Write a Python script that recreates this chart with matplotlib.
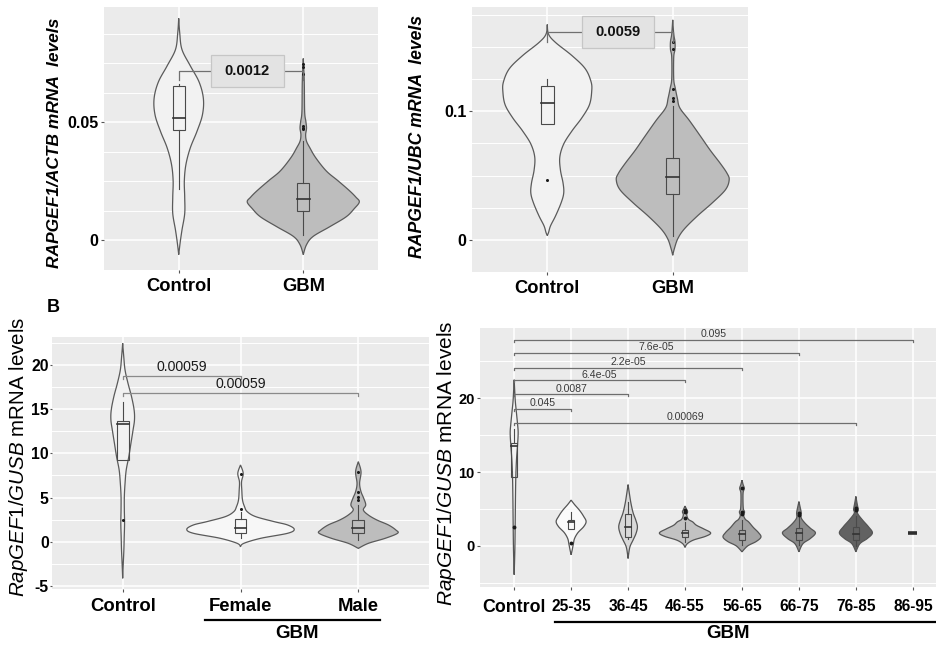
import numpy as np
import matplotlib
matplotlib.use("Agg")
import matplotlib.pyplot as plt
from matplotlib.patches import Rectangle
from matplotlib.lines import Line2D

plt.rcParams['font.family'] = ['Liberation Sans', 'DejaVu Sans']
plt.rcParams['mathtext.fontset'] = 'custom'
plt.rcParams['mathtext.rm'] = 'Liberation Sans'
plt.rcParams['mathtext.it'] = 'Liberation Sans:italic'
plt.rcParams['mathtext.bf'] = 'Liberation Sans:bold'

# ---------------- data: panel A1 (RAPGEF1/ACTB) ----------------
a1_cats = ["Control", "GBM"]
a1_ctrl_y = [0.094, 0.0878, 0.0808, 0.0739, 0.0670, 0.060, 0.0531, 0.0461, 0.0392, 0.0322, 0.0253, 0.0183, 0.0114, 0.0044, -0.0011, -0.006]
a1_ctrl_w = [0.0, 0.008, 0.026, 0.093, 0.164, 0.198, 0.19, 0.146, 0.093, 0.058, 0.045, 0.048, 0.048, 0.026, 0.011, 0.0]
a1_gbm_y = [0.077, 0.067, 0.0545, 0.0503, 0.0475, 0.0447, 0.042, 0.0392, 0.035, 0.0294, 0.0253, 0.0211, 0.0183, 0.0163, 0.0135, 0.010, 0.0058, 0.0017, -0.0018, -0.006]
a1_gbm_w = [0.0, 0.008, 0.011, 0.021, 0.026, 0.019, 0.026, 0.053, 0.10, 0.185, 0.278, 0.37, 0.423, 0.45, 0.41, 0.344, 0.212, 0.079, 0.026, 0.0]
# box stats: q1, median, q3, whisker low, whisker high
a1_ctrl_box = [0.0468, 0.052, 0.0653, 0.0218, 0.0663]
a1_ctrl_out = []
a1_gbm_box = [0.0124, 0.0176, 0.0245, 0.0024, 0.042]
a1_gbm_out = [0.047, 0.0475, 0.0483, 0.0705, 0.0735, 0.0745]
a1_p = "0.0012"
a1_p_y = 0.0717

# ---------------- data: panel A2 (RAPGEF1/UBC) ----------------
a2_cats = ["Control", "GBM"]
a2_ctrl_y = [0.1674, 0.1598, 0.1534, 0.1432, 0.1331, 0.1229, 0.1153, 0.105, 0.0949, 0.0847, 0.0745, 0.0644, 0.0542, 0.044, 0.0363, 0.0287, 0.0186, 0.0109, 0.0058, 0.0033]
a2_ctrl_w = [0.0, 0.0105, 0.066, 0.197, 0.302, 0.349, 0.354, 0.336, 0.276, 0.197, 0.131, 0.10, 0.105, 0.126, 0.131, 0.11, 0.066, 0.026, 0.0105, 0.0]
a2_gbm_y = [0.171, 0.160, 0.154, 0.148, 0.142, 0.125, 0.118, 0.110, 0.1025, 0.0926, 0.0796, 0.0695, 0.0593, 0.0517, 0.0466, 0.0389, 0.0287, 0.0186, 0.0084, 0.0008, -0.0069, -0.012]
a2_gbm_w = [0.0, 0.008, 0.018, 0.018, 0.008, 0.008, 0.02, 0.037, 0.057, 0.134, 0.228, 0.30, 0.38, 0.433, 0.45, 0.42, 0.315, 0.197, 0.092, 0.04, 0.013, 0.0]
a2_ctrl_box = [0.0903, 0.1063, 0.1196, 0.0903, 0.1247]
a2_ctrl_out = [0.0466]
a2_gbm_box = [0.0359, 0.0486, 0.0636, 0.0033, 0.104]
a2_gbm_out = [0.108, 0.110, 0.117, 0.148, 0.154]
a2_p = "0.0059"
a2_p_y = 0.1617

# ---------------- data: panel B1 (sex) ----------------
b1_cats = ["Control", "Female", "Male"]
b1_ctrl_y = [22.47, 20.96, 19.45, 17.94, 16.43, 14.92, 13.78, 12.65, 11.14, 9.63, 8.12, 6.61, 5.10, 3.59, 2.08, 0.57, -0.94, -2.45, -4.15]
b1_ctrl_w = [0.0, 0.009, 0.02, 0.045, 0.075, 0.097, 0.1, 0.088, 0.07, 0.052, 0.03, 0.02, 0.014, 0.014, 0.016, 0.013, 0.01, 0.005, 0.0]
b1_fem_y = [8.69, 7.74, 6.8, 5.85, 4.72, 3.97, 3.4, 2.84, 2.27, 1.89, 1.4, 0.95, 0.38, -0.19, -0.57]
b1_fem_w = [0.0, 0.023, 0.009, 0.011, 0.017, 0.034, 0.057, 0.128, 0.285, 0.40, 0.456, 0.40, 0.171, 0.028, 0.0]
b1_male_y = [9.06, 7.93, 6.61, 5.66, 4.91, 4.16, 3.59, 3.02, 2.46, 1.89, 1.32, 0.95, 0.38, -0.19, -0.76]
b1_male_w = [0.0, 0.023, 0.011, 0.023, 0.046, 0.063, 0.043, 0.085, 0.157, 0.256, 0.319, 0.333, 0.228, 0.085, 0.0]
b1_ctrl_box = [9.25, 13.29, 13.7, 9.25, 15.8]
b1_ctrl_out = [2.46]
b1_fem_box = [0.95, 1.52, 2.53, 0.38, 3.4]
b1_fem_out = [3.7, 7.7]
b1_male_box = [0.95, 1.59, 2.46, 0.2, 4.2]
b1_male_out = [4.7, 5.1, 5.66, 7.93]
b1_cmp_target = [1, 2]
b1_cmp_y = [18.75, 16.8]
b1_cmp_p = ["0.00059", "0.00059"]

# ---------------- data: panel B2 (age) ----------------
b2_cats = ["Control", "25-35", "36-45", "46-55", "56-65", "66-75", "76-85", "86-95"]
b2_y = [
    [22.5, 19.8, 18.4, 16.6, 15.3, 13.5, 11.7, 9.4, 6.7, 3.1, -0.5, -3.9],
    [6.2, 5.6, 4.8, 4.0, 3.3, 2.6, 1.8, 1.0, 0.3, -0.5, -1.2],
    [8.3, 7.0, 5.8, 4.5, 3.5, 2.6, 1.7, 0.8, -0.2, -1.7],
    [5.4, 4.9, 4.6, 4.2, 3.6, 3.25, 2.8, 2.3, 1.76, 1.3, 0.8, 0.3, -0.2],
    [8.9, 8.3, 7.8, 7.2, 6.0, 5.0, 4.6, 4.1, 3.6, 3.25, 2.5, 1.8, 1.2, 0.6, 0.0, -0.8],
    [6.0, 5.3, 4.5, 3.8, 3.1, 2.4, 1.76, 1.0, 0.3, -0.8],
    [6.7, 5.8, 5.2, 4.9, 4.4, 3.5, 2.6, 1.76, 1.0, 0.3, -0.8],
]
b2_w = [
    [0.0, 0.018, 0.035, 0.058, 0.07, 0.058, 0.041, 0.029, 0.023, 0.018, 0.012, 0.0],
    [0.0, 0.06, 0.15, 0.22, 0.263, 0.22, 0.12, 0.06, 0.04, 0.02, 0.0],
    [0.0, 0.025, 0.05, 0.088, 0.135, 0.164, 0.14, 0.088, 0.03, 0.0],
    [0.0, 0.03, 0.045, 0.03, 0.06, 0.135, 0.2, 0.33, 0.45, 0.36, 0.15, 0.04, 0.0],
    [0.0, 0.02, 0.04, 0.02, 0.018, 0.025, 0.045, 0.03, 0.06, 0.117, 0.2, 0.29, 0.333, 0.25, 0.1, 0.0],
    [0.0, 0.02, 0.04, 0.04, 0.105, 0.2, 0.29, 0.2, 0.07, 0.0],
    [0.0, 0.02, 0.035, 0.04, 0.03, 0.117, 0.22, 0.29, 0.2, 0.07, 0.0],
]
b2_box = [
    [9.39, 13.47, 13.9, 9.39, 15.8],
    [2.26, 3.2, 3.52, 2.26, 4.65],
    [1.2, 2.5, 4.3, 0.9, 6.0],
    [1.18, 1.7, 2.2, 0.5, 3.3],
    [0.81, 1.6, 2.17, 0.1, 3.5],
    [0.8, 1.76, 2.4, 0.1, 3.9],
    [0.8, 1.6, 2.6, 0.0, 4.0],
]
b2_out = [[2.53], [0.45], [], [3.8, 4.6, 4.9], [4.3, 4.6, 7.8], [4.2, 4.5], [4.9, 5.2]]
b2_single = 1.8  # 86-95 group (single sample)
b2_fill = ["#f3f3f3", "#fafafa", "#d9d9d9", "#c2c2c2", "#a3a3a3", "#8a8a8a", "#626262"]
b2_cmp_target = [7, 5, 4, 3, 2, 1, 6]
b2_cmp_y = [27.9, 26.15, 24.1, 22.4, 20.5, 18.6, 16.7]
b2_cmp_p = ["0.095", "7.6e-05", "2.2e-05", "6.4e-05", "0.0087", "0.045", "0.00069"]

# ---------------- helpers ----------------
W, H = 936, 646
fig = plt.figure(figsize=(W / 100, H / 100), dpi=100)
fig.patch.set_facecolor("white")


def frect(x0, y0, x1, y1):
    return [x0 / W, 1 - y1 / H, (x1 - x0) / W, (y1 - y0) / H]


def fpt(x, y):
    return x / W, 1 - y / H


def catmull(y, w, n=10):
    P = np.column_stack([y, w]).astype(float)
    P = np.vstack([P[0], P, P[-1]])
    out = []
    for i in range(1, len(P) - 2):
        p0, p1, p2, p3 = P[i - 1], P[i], P[i + 1], P[i + 2]
        for t in np.linspace(0, 1, n, endpoint=False):
            t2, t3 = t * t, t * t * t
            out.append(0.5 * (2 * p1 + (-p0 + p2) * t + (2 * p0 - 5 * p1 + 4 * p2 - p3) * t2
                              + (-p0 + 3 * p1 - 3 * p2 + p3) * t3))
    out.append(P[-2])
    out = np.array(out)
    return out[:, 0], np.clip(out[:, 1], 0, None)


def violin(ax, x, vy, vw, fc, ec="#5a5a5a", lw=0.9):
    ys, ws = catmull(vy, vw)
    xs = np.concatenate([x - ws, (x + ws)[::-1]])
    yy = np.concatenate([ys, ys[::-1]])
    ax.fill(xs, yy, facecolor=fc, edgecolor=ec, lw=lw, zorder=2)


def boxplot(ax, x, st, outs, bw=0.05, ec="#4a4a4a", ms=2.2):
    q1, med, q3, wlo, whi = st
    ax.plot([x, x], [wlo, q1], color=ec, lw=0.8, zorder=3)
    ax.plot([x, x], [q3, whi], color=ec, lw=0.8, zorder=3)
    ax.add_patch(Rectangle((x - bw, q1), 2 * bw, q3 - q1, fill=False, ec=ec, lw=0.8, zorder=3))
    ax.plot([x - bw, x + bw], [med, med], color="#333333", lw=1.2, zorder=4)
    if outs:
        ax.plot([x] * len(outs), outs, "o", ms=ms, color="#1a1a1a", mec="none", zorder=5)


def style(ax, ncat, ylim, majors, mlabels, grid, ysize, tlen=2.5, tpad=1.5):
    ax.set_facecolor("#ebebeb")
    for s in ax.spines.values():
        s.set_visible(False)
    ax.set_xlim(-0.6, ncat - 0.4)
    ax.set_ylim(*ylim)
    ax.set_yticks(majors)
    ax.set_yticklabels(mlabels, fontweight="bold", fontsize=ysize)
    ax.set_yticks(grid, minor=True)
    ax.set_xticks(range(ncat))
    ax.grid(which="major", color="white", lw=1.1)
    ax.grid(which="minor", axis="y", color="white", lw=0.7)
    ax.set_axisbelow(True)
    ax.tick_params(which="minor", length=0)
    ax.tick_params(which="major", length=tlen, width=0.8, color="#555555", pad=tpad)


def label_box(ax, xc, y, text, bw, bh, fs=10.6):
    ax.plot([0, 0, 1, 1], [y - bh * 0.3, y, y, y - bh * 0.3], color="#707070", lw=0.9, zorder=6)
    ax.add_patch(Rectangle((xc - bw / 2, y - bh / 2), bw, bh, facecolor="#e3e3e3",
                           edgecolor="#c6c6c6", lw=0.9, zorder=7))
    ax.text(xc, y, text, ha="center", va="center", fontsize=fs, fontweight="bold",
            color="#111111", zorder=8)


def bracket(ax, x0, x1, y, tip, text, fs, col="#777777", tcol="#333333", off=1.0):
    ax.plot([x0, x0, x1, x1], [y - tip, y, y, y - tip], color=col, lw=0.9, zorder=6)
    ax.annotate(text, xy=((x0 + x1) / 2, y), xytext=(0, off), textcoords="offset points",
                ha="center", va="bottom", fontsize=fs, color=tcol, zorder=7)


# ---------------- panel A1 ----------------
ax1 = fig.add_axes(frect(104, 7, 378, 270))
style(ax1, 2, (-0.0108, 0.0988), [0, 0.05], ["0", "0.05"], np.arange(-0.0125, 0.1, 0.0125), 11.5)
ax1.set_xticklabels(a1_cats, fontweight="bold", fontsize=13.2)
ax1.tick_params(axis="x", pad=3)
violin(ax1, 0, a1_ctrl_y, a1_ctrl_w, "#f2f2f2")
violin(ax1, 1, a1_gbm_y, a1_gbm_w, "#bdbdbd")
boxplot(ax1, 0, a1_ctrl_box, a1_ctrl_out)
boxplot(ax1, 1, a1_gbm_box, a1_gbm_out)
label_box(ax1, 0.55, a1_p_y, a1_p, 0.587, 0.0133)
fig.text(*fpt(55, 143), "RAPGEF1/ACTB mRNA  levels", rotation=90, ha="center", va="center",
         fontsize=12.5, fontweight="bold", fontstyle="italic")

# ---------------- panel A2 ----------------
ax2 = fig.add_axes(frect(472, 7, 748, 272))
style(ax2, 2, (-0.0214, 0.181), [0, 0.1], ["0", "0.1"], np.arange(-0.025, 0.19, 0.025), 11.5)
ax2.set_xticklabels(a2_cats, fontweight="bold", fontsize=13.2)
ax2.tick_params(axis="x", pad=3)
violin(ax2, 0, a2_ctrl_y, a2_ctrl_w, "#f2f2f2")
violin(ax2, 1, a2_gbm_y, a2_gbm_w, "#bdbdbd")
boxplot(ax2, 0, a2_ctrl_box, a2_ctrl_out)
boxplot(ax2, 1, a2_gbm_box, a2_gbm_out)
label_box(ax2, 0.563, a2_p_y, a2_p, 0.575, 0.0252)
fig.text(*fpt(417, 137), "RAPGEF1/UBC mRNA  levels", rotation=90, ha="center", va="center",
         fontsize=12.7, fontweight="bold", fontstyle="italic")

# ---------------- panel B1 ----------------
ax3 = fig.add_axes(frect(52, 337, 429, 589))
style(ax3, 3, (-5.36, 23.18), [-5, 0, 5, 10, 15, 20], ["-5", "0", "5", "10", "15", "20"],
      np.arange(-5, 23, 2.5), 11.4, tlen=1.5, tpad=0.8)
ax3.set_xticklabels(b1_cats, fontweight="bold", fontsize=13.3)
ax3.tick_params(axis="x", pad=4, length=2.5)
violin(ax3, 0, b1_ctrl_y, b1_ctrl_w, "#f2f2f2")
violin(ax3, 1, b1_fem_y, b1_fem_w, "#f7f7f7")
violin(ax3, 2, b1_male_y, b1_male_w, "#bdbdbd")
boxplot(ax3, 0, b1_ctrl_box, b1_ctrl_out)
boxplot(ax3, 1, b1_fem_box, b1_fem_out)
boxplot(ax3, 2, b1_male_box, b1_male_out)
for t, yv, p in zip(b1_cmp_target, b1_cmp_y, b1_cmp_p):
    bracket(ax3, 0, t, yv, 0.35, p, 10.2, col="#8a8a8a", tcol="#1a1a1a", off=1.5)
fig.text(*fpt(19, 457), r"$\mathit{RapGEF1/GUSB}$ mRNA levels", rotation=90, ha="center",
         va="center", fontsize=14.8)
fig.text(*fpt(53, 308), "B", ha="center", va="center", fontsize=13, fontweight="bold")
fig.add_artist(Line2D([205 / W, 380 / W], [1 - 620 / H] * 2, color="black", lw=1.6))
fig.text(*fpt(297, 634), "GBM", ha="center", va="center", fontsize=13.4, fontweight="bold")

# ---------------- panel B2 ----------------
ax4 = fig.add_axes(frect(480, 328, 947, 587))
style(ax4, 8, (-5.56, 29.5), [0, 10, 20], ["0", "10", "20"], np.arange(-5, 30, 5), 10.5)
ax4.set_xticklabels(b2_cats, fontweight="bold", fontsize=11.2)
ax4.get_xticklabels()[0].set_fontsize(12.8)
ax4.tick_params(axis="x", pad=6)
for i in range(7):
    violin(ax4, i, b2_y[i], b2_w[i], b2_fill[i], ec="#555555")
    boxplot(ax4, i, b2_box[i], b2_out[i], bw=0.055, ms=2.8)
ax4.plot([7 - 0.082, 7 + 0.082], [b2_single, b2_single], color="#2e2e2e", lw=2.6,
         solid_capstyle="butt", zorder=4)
for t, yv, p in zip(b2_cmp_target, b2_cmp_y, b2_cmp_p):
    bracket(ax4, 0, t, yv, 0.27, p, 7.6, col="#6e6e6e", tcol="#3a3a3a", off=0.6)
fig.text(*fpt(446, 463), r"$\mathit{RapGEF1/GUSB}$ mRNA levels", rotation=90, ha="center",
         va="center", fontsize=15.0)
fig.add_artist(Line2D([555 / W, 936 / W], [1 - 622 / H] * 2, color="black", lw=1.6))
fig.text(*fpt(728, 634), "GBM", ha="center", va="center", fontsize=13.4, fontweight="bold")

fig.savefig("out.png", dpi=100, facecolor="white")
